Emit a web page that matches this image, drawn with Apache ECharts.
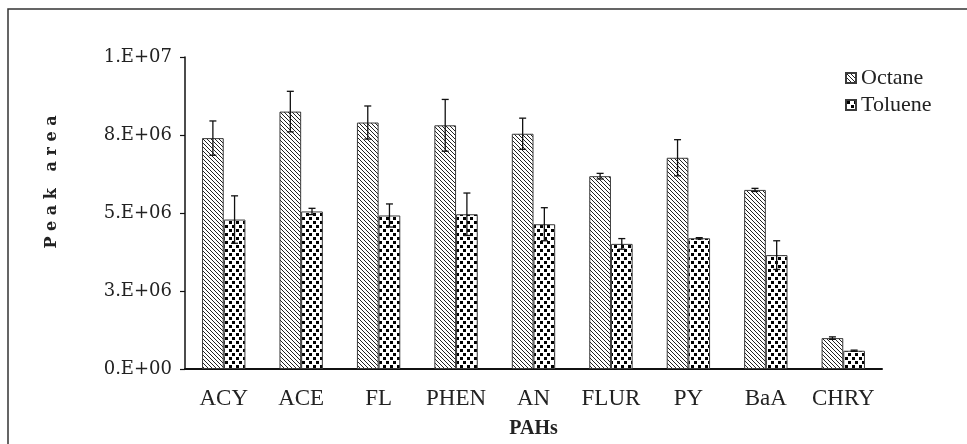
<!DOCTYPE html>
<html>
<head>
<meta charset="utf-8">
<script src="https://cdn.jsdelivr.net/npm/echarts@6/dist/echarts.min.js"></script>
<style>
  html, body { margin: 0; padding: 0; background: #fff; }
  #chart { width: 967px; height: 444px; }
</style>
</head>
<body>
<div id="chart"></div>
<script>
const categories = ['ACY', 'ACE', 'FL', 'PHEN', 'AN', 'FLUR', 'PY', 'BaA', 'CHRY'];
const octane = [7.40e6, 8.25e6, 7.90e6, 7.81e6, 7.54e6, 6.18e6, 6.77e6, 5.74e6, 0.99e6];
const octaneErr = [0.55e6, 0.65e6, 0.53e6, 0.83e6, 0.50e6, 0.09e6, 0.58e6, 0.05e6, 0.04e6];
const toluene = [4.79e6, 5.05e6, 4.92e6, 4.96e6, 4.64e6, 4.01e6, 4.19e6, 3.65e6, 0.585e6];
const tolueneErr = [0.76e6, 0.10e6, 0.37e6, 0.68e6, 0.53e6, 0.17e6, 0.02e6, 0.46e6, 0.02e6];
const yTickLabels = ['0.E+00', '3.E+06', '5.E+06', '8.E+06', '1.E+07'];

// hatch fill for Octane: thin "\" lines
function hatchPattern() {
    const c = document.createElement('canvas');
    c.width = 4; c.height = 4;
    const ctx = c.getContext('2d');
    ctx.fillStyle = '#fff';
    ctx.fillRect(0, 0, 4, 4);
    ctx.strokeStyle = '#222';
    ctx.lineWidth = 1;
    ctx.beginPath();
    ctx.moveTo(-1, -1); ctx.lineTo(5, 5);
    ctx.moveTo(-1, 3); ctx.lineTo(1, 5);
    ctx.moveTo(3, -1); ctx.lineTo(5, 1);
    ctx.stroke();
    return c;
}

// dotted fill for Toluene
function dotPattern() {
    const c = document.createElement('canvas');
    c.width = 7; c.height = 8;
    const ctx = c.getContext('2d');
    ctx.fillStyle = '#fff';
    ctx.fillRect(0, 0, 7, 8);
    ctx.fillStyle = '#000';
    ctx.fillRect(1, 1, 3, 3);
    ctx.fillRect(5, 5, 3, 3);
    ctx.fillRect(-2, 5, 3, 3);
    return c;
}

const barPart = 0.28;

function errorBars(offsetSign) {
    return function (params, api) {
        const idx = api.value(0);
        const lo = api.coord([idx, api.value(1)]);
        const hi = api.coord([idx, api.value(2)]);
        const band = api.size([1, 0])[0];
        const x = lo[0] + offsetSign * band * barPart / 2;
        const half = 3.5;
        const style = { stroke: '#111', lineWidth: 1.3 };
        return {
            type: 'group',
            children: [
                { type: 'line', shape: { x1: x, y1: hi[1], x2: x, y2: lo[1] }, style: style },
                { type: 'line', shape: { x1: x - half, y1: hi[1], x2: x + half, y2: hi[1] }, style: style },
                { type: 'line', shape: { x1: x - half, y1: lo[1], x2: x + half, y2: lo[1] }, style: style }
            ]
        };
    };
}

const chart = echarts.init(document.getElementById('chart'));

const option = {
    backgroundColor: '#fff',
    animation: false,
    textStyle: { fontFamily: 'Liberation Serif' },
    graphic: [
        {
            type: 'rect',
            z: -10,
            shape: { x: 8, y: 9, width: 1000, height: 500 },
            style: { fill: 'none', stroke: '#333', lineWidth: 1.5 }
        },
        {
            type: 'text',
            x: 52,
            y: 182,
            rotation: Math.PI / 2,
            style: {
                text: 'P e a k   a r e a',
                font: 'bold 16px "DejaVu Serif"',
                fill: '#222',
                align: 'center',
                verticalAlign: 'middle'
            }
        }
    ],
    legend: {
        data: ['Octane', 'Toluene'],
        orient: 'vertical',
        left: 840,
        top: 62,
        itemWidth: 10,
        itemHeight: 10,
        itemGap: 5,
        icon: 'rect',
        textStyle: { fontFamily: 'Liberation Serif', fontSize: 22, color: '#222' }
    },
    grid: { left: 185, right: 85, top: 57, bottom: 74 },
    xAxis: {
        type: 'category',
        data: categories,
        name: 'PAHs',
        nameLocation: 'middle',
        nameGap: 50,
        nameTextStyle: { fontFamily: 'Liberation Serif', fontWeight: 'bold', fontSize: 20, color: '#222' },
        axisLine: { lineStyle: { color: '#111', width: 2 } },
        axisTick: { length: 7, interval: 0, lineStyle: { color: '#111', width: 1.5 } },
        axisLabel: { fontFamily: 'Liberation Serif', fontSize: 23, color: '#222', margin: 18, interval: 0 }
    },
    yAxis: {
        type: 'value',
        min: 0,
        max: 1e7,
        interval: 2.5e6,
        axisLine: { show: true, lineStyle: { color: '#111', width: 1.5 } },
        axisTick: { show: true, length: 5, lineStyle: { color: '#111', width: 1.2 } },
        splitLine: { show: false },
        axisLabel: {
            fontFamily: 'DejaVu Serif',
            fontSize: 18,
            color: '#222',
            margin: 13,
            formatter: function (v) { return yTickLabels[Math.round(v / 2.5e6)]; }
        }
    },
    series: [
        {
            name: 'Octane',
            type: 'bar',
            data: octane,
            barWidth: (barPart * 100) + '%',
            barGap: '0%',
            itemStyle: {
                color: { image: hatchPattern(), repeat: 'repeat' },
                borderColor: '#3a3a3a',
                borderWidth: 1
            }
        },
        {
            name: 'Toluene',
            type: 'bar',
            data: toluene,
            barWidth: (barPart * 100) + '%',
            barGap: '0%',
            itemStyle: {
                color: { image: dotPattern(), repeat: 'repeat' },
                borderColor: '#3a3a3a',
                borderWidth: 1
            }
        },
        {
            name: 'Octane error',
            type: 'custom',
            renderItem: errorBars(-1),
            data: octane.map(function (v, i) { return [i, v - octaneErr[i], v + octaneErr[i]]; }),
            z: 10
        },
        {
            name: 'Toluene error',
            type: 'custom',
            renderItem: errorBars(1),
            data: toluene.map(function (v, i) { return [i, v - tolueneErr[i], v + tolueneErr[i]]; }),
            z: 10
        }
    ]
};

chart.setOption(option);
</script>
</body>
</html>
